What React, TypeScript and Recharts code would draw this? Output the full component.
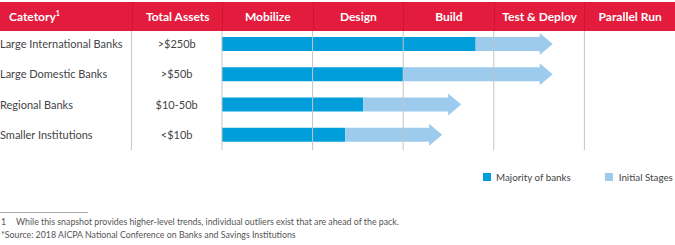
import React from "react";
import { BarChart, Bar, XAxis, YAxis, ReferenceLine, Legend, LabelList } from "recharts";

const categories = ["Large International Banks", "Large Domestic Banks", "Regional Banks", "Smaller Institutions"];
const totalAssets = [">$250b", ">$50b", "$10-50b", "<$10b"];
const majorityEnd = [2.8, 2.0, 1.56, 1.36];
const initialEnd = [3.65, 3.65, 2.64, 2.43];
const stages = ["Mobilize", "Design", "Build", "Test & Deploy", "Parallel Run"];
const stageBoundaries = [-1, 0, 1, 2, 3, 4];
const legendLabels = ["Majority of banks", "Initial Stages"];
const headerCategory = "Catetory";
const headerAssets = "Total Assets";
const footnote1 = "While this snapshot provides higher-level trends, individual outliers exist that are ahead of the pack.";
const footnote2 = "*Source: 2018 AICPA National Conference on Banks and Savings Institutions";

const data = categories.map((c, i) => ({
  category: c,
  assets: totalAssets[i],
  majority: majorityEnd[i],
  initial: +(initialEnd[i] - majorityEnd[i]).toFixed(2),
}));

const RED = "#e31c3d";
const DARK = "#009fdb";
const LIGHT = "#9dcbee";
const TEXT = "#444";
const FONT = "Lato, 'Open Sans', sans-serif";
const W = 675;
const H = 245;
const COL = 90.6; // px per stage unit
const X0 = 2.45; // units left of stage 0

const Arrow = (props: any) => {
  const { x, y, width, height, fill } = props;
  if (!width || width <= 0) return null;
  const head = 13;
  const cy = y + height / 2;
  const bx = x + width - head;
  const d = `M${x},${y} L${bx},${y} L${bx},${cy - 11} L${x + width},${cy} L${bx},${cy + 11} L${bx},${y + height} L${x},${y + height} Z`;
  return <path d={d} fill={fill} />;
};

const RowLabel = (props: any) => {
  const { y, height, index } = props;
  const cy = Number(y) + Number(height) / 2;
  return (
    <g>
      <text x={0} y={cy} dy={4} textAnchor="start" fill={TEXT} fontSize={11} fontFamily={FONT}>
        {categories[index]}
      </text>
      <text x={(X0 - 0.5) * COL} y={cy} dy={4} textAnchor="middle" fill={TEXT} fontSize={11} fontFamily={FONT}>
        {totalAssets[index]}
      </text>
    </g>
  );
};

const LegendContent = (props: any) => {
  const items = [...(props.payload || [])].sort(
    (a: any, b: any) => legendLabels.indexOf(a.value) - legendLabels.indexOf(b.value)
  );
  return (
    <div style={{ display: "flex", fontFamily: FONT, fontSize: 9.8, color: TEXT, whiteSpace: "nowrap", lineHeight: "14px" }}>
      {items.map((it: any, k: number) => (
        <div key={k} style={{ display: "flex", alignItems: "center", marginRight: k === 0 ? 34 : 0 }}>
          <span style={{ display: "inline-block", width: 8, height: 8, background: it.color, marginRight: k === 0 ? 5 : 6 }} />
          <span>{it.value}</span>
        </div>
      ))}
    </div>
  );
};

export default function App() {
  const cols = [
    { label: headerCategory, left: 0, width: 132, align: "left" as const },
    { label: headerAssets, left: 132, width: COL, align: "center" as const },
    ...stages.map((s, i) => ({ label: s, left: (X0 + i) * COL, width: COL, align: "center" as const })),
  ];
  return (
    <div style={{ position: "absolute", left: 0, top: 0, width: W, height: H, fontFamily: FONT, overflow: "hidden" }}>
      <BarChart
        width={W}
        height={H}
        data={data}
        layout="vertical"
        margin={{ top: 29, right: 0, bottom: 95, left: 0 }}
        barCategoryGap={8}
      >
        <XAxis
          type="number"
          domain={[-X0, 5]}
          allowDataOverflow
          tick={false}
          tickLine={false}
          height={0}
          axisLine={{ stroke: "#c4c4c4" }}
        />
        <YAxis type="category" dataKey="category" hide width={0} />
        {stageBoundaries.map((b) => (
          <ReferenceLine key={b} x={b} stroke="#c4c4c4" strokeWidth={1} ifOverflow="visible" />
        ))}
        <Bar dataKey="majority" name={legendLabels[0]} stackId="a" fill={DARK} barSize={14} isAnimationActive={false}>
          <LabelList dataKey="category" content={<RowLabel />} />
        </Bar>
        <Bar dataKey="initial" name={legendLabels[1]} stackId="a" fill={LIGHT} barSize={14} shape={<Arrow />} isAnimationActive={false} />
        <Legend
          layout="horizontal"
          verticalAlign="middle"
          align="center"
          content={<LegendContent />}
          wrapperStyle={{ position: "absolute", top: 170, left: 483, width: 192, height: 14 }}
        />
      </BarChart>
      <div style={{ position: "absolute", top: 2, left: 0, width: W, height: 29, background: RED }}>
        {cols.map((c, i) => (
          <div
            key={i}
            style={{
              position: "absolute",
              left: c.left,
              width: c.width,
              top: 0,
              height: 29,
              lineHeight: "29px",
              textAlign: c.align,
              paddingLeft: c.align === "left" ? 9 : 0,
              boxSizing: "border-box",
              color: "#fff",
              fontWeight: 700,
              fontSize: 12,
              borderLeft: i > 0 ? "1px solid rgba(150,0,20,0.25)" : "none",
            }}
          >
            {c.label}
            {i === 0 && <sup style={{ fontSize: 7, lineHeight: 0 }}>1</sup>}
          </div>
        ))}
      </div>
      <div style={{ position: "absolute", top: 212, left: 0, width: 88, height: 0, borderTop: "1px solid #aaa" }} />
      <div style={{ position: "absolute", top: 216, left: 1, fontSize: 8.8, lineHeight: "12px", color: "#555", whiteSpace: "nowrap" }}>
        <span style={{ display: "inline-block", width: 15 }}>1</span>
        {footnote1}
      </div>
      <div style={{ position: "absolute", top: 229, left: 1, fontSize: 8.8, lineHeight: "12px", color: "#555", whiteSpace: "nowrap" }}>
        {footnote2}
      </div>
    </div>
  );
}
